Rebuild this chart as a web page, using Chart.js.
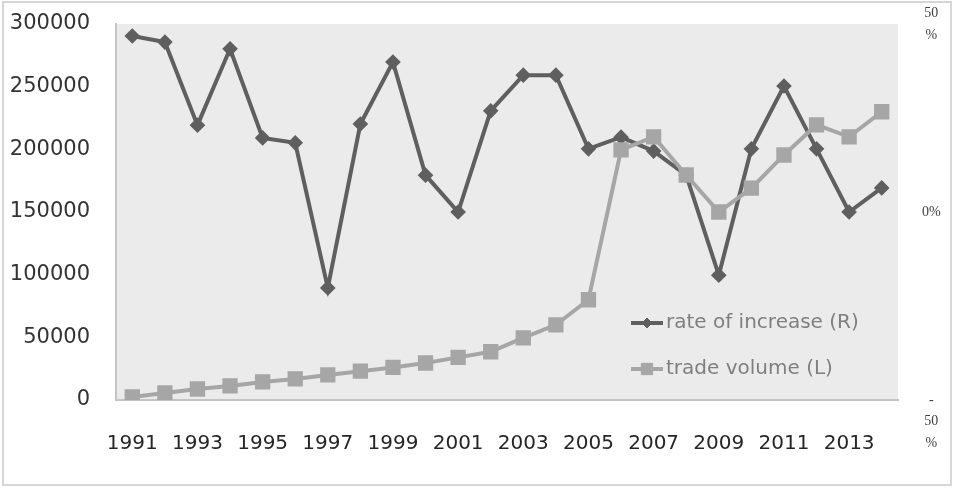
<!DOCTYPE html>
<html>
<head>
<meta charset="utf-8">
<script src="https://cdn.jsdelivr.net/npm/chart.js@4.4.1/dist/chart.umd.min.js"></script>
<style>
  html, body { margin: 0; padding: 0; background: #fff; }
</style>
</head>
<body>
<canvas id="grafico" width="954" height="488"></canvas>
<script>
// data
const years = ["1991","1992","1993","1994","1995","1996","1997","1998","1999","2000","2001","2002",
               "2003","2004","2005","2006","2007","2008","2009","2010","2011","2012","2013","2014"]
// rate of increase, % (right axis)
const rateOfIncrease = [46.8, 45.2, 23.1, 43.4, 19.7, 18.4, -20.2, 23.4, 39.9, 9.8, 0, 26.9,
                        36.4, 36.4, 16.8, 19.9, 16.2, 9.8, -16.8, 16.8, 33.5, 16.8, 0, 6.4]
// trade volume (left axis)
const tradeVolume = [2400, 5600, 8800, 11200, 14400, 16800, 20000, 23000, 26000, 29500, 34000, 38500,
                     49500, 60000, 80000, 199500, 210000, 179500, 150000, 169000, 195500, 219500, 210000, 230000]
const leftTicks = [0, 300000, 50000]      // min, max, step
const rightTicks = [-50, 50, 50]          // min, max, step
const rightTickLabels = { "50": ["50", "%"], "0": "0%", "-50": ["", "", "-", "50", "%"] }
const seriesNames = ["rate of increase (R)", "trade volume (L)"]

const ctx = document.getElementById('grafico')

// plot background + outer frame
const frame = {
  id: 'frame',
  beforeDraw(chart) {
    const c = chart.ctx, a = chart.chartArea
    c.save()
    c.fillStyle = '#ebebeb'
    c.fillRect(a.left, a.top, a.right - a.left, a.bottom - a.top)
    c.strokeStyle = '#d6d6d6'
    c.lineWidth = 2
    c.strokeRect(3, 2, 948, 483)
    c.restore()
  }
}

// legend drawn inside the plot, bottom right
const innerLegend = {
  id: 'innerLegend',
  afterDatasetsDraw(chart) {
    const c = chart.ctx, a = chart.chartArea
    const x0 = a.right - 267, x1 = a.right - 235
    const rows = [a.bottom - 77, a.bottom - 31]
    c.save()
    chart.data.datasets.forEach((ds, i) => {
      const y = rows[i]
      c.strokeStyle = ds.borderColor
      c.lineWidth = 4
      c.beginPath()
      c.moveTo(x0, y)
      c.lineTo(x1, y)
      c.stroke()
      c.fillStyle = ds.pointBackgroundColor
      c.strokeStyle = ds.pointBorderColor
      c.lineWidth = 1
      Chart.helpers.drawPoint(c, { pointStyle: ds.pointStyle, radius: ds.pointRadius, borderWidth: 1 }, (x0 + x1) / 2, y)
      c.fillStyle = '#7f7f7f'
      c.font = '20px "DejaVu Sans"'
      c.textBaseline = 'middle'
      c.textAlign = 'left'
      c.fillText(ds.label, x1 + 3, y)
    })
    c.restore()
  }
}

const fitY = width => s => {
  s.width = width
  s.paddingTop = 0
  s.paddingBottom = 0
}

let grafico = new Chart(ctx, {
  type: 'line',
  data: {
    labels: years,
    datasets: [{
      label: seriesNames[0],
      data: rateOfIncrease,
      yAxisID: 'yR',
      borderColor: '#5f5f5f',
      backgroundColor: '#5f5f5f',
      pointBackgroundColor: '#5f5f5f',
      pointBorderColor: '#5f5f5f',
      borderWidth: 4,
      pointStyle: 'rectRot',
      pointRadius: 5,
      tension: 0,
      order: 2
    }, {
      label: seriesNames[1],
      data: tradeVolume,
      yAxisID: 'yL',
      borderColor: '#a6a6a6',
      backgroundColor: '#a6a6a6',
      pointBackgroundColor: '#a6a6a6',
      pointBorderColor: '#a6a6a6',
      borderWidth: 4,
      pointStyle: 'rect',
      pointRadius: 8,
      tension: 0,
      order: 1
    }]
  },
  options: {
    responsive: false,
    animation: false,
    layout: { padding: { top: 24, left: 0, right: 0, bottom: 0 } },
    plugins: {
      legend: { display: false },
      tooltip: { enabled: false }
    },
    scales: {
      x: {
        type: 'category',
        offset: true,
        grid: { display: false, drawTicks: false },
        border: { display: true, color: '#c4c4c4', width: 2 },
        ticks: {
          autoSkip: false,
          maxRotation: 0,
          padding: 32,
          color: '#262626',
          font: { family: 'DejaVu Sans', size: 20 },
          callback: (v, i) => i % 2 === 0 ? years[i] : ''
        },
        afterFit: s => { s.height = 88 }
      },
      yL: {
        position: 'left',
        min: leftTicks[0],
        max: leftTicks[1],
        grid: { display: false, drawTicks: false },
        border: { display: true, color: '#c4c4c4', width: 2 },
        ticks: {
          stepSize: leftTicks[2],
          padding: 26,
          color: '#333333',
          font: { family: 'DejaVu Sans', size: 21 },
          callback: v => String(v)
        },
        afterFit: fitY(116)
      },
      yR: {
        position: 'right',
        min: rightTicks[0],
        max: rightTicks[1],
        grid: { display: false, drawTicks: false },
        border: { display: false },
        ticks: {
          stepSize: rightTicks[2],
          padding: 24,
          crossAlign: 'center',
          color: '#404040',
          font: { family: 'Liberation Serif', size: 14, lineHeight: 1.55 },
          callback: v => rightTickLabels[String(v)]
        },
        afterFit: fitY(56)
      }
    }
  },
  plugins: [frame, innerLegend]
})
</script>
</body>
</html>
